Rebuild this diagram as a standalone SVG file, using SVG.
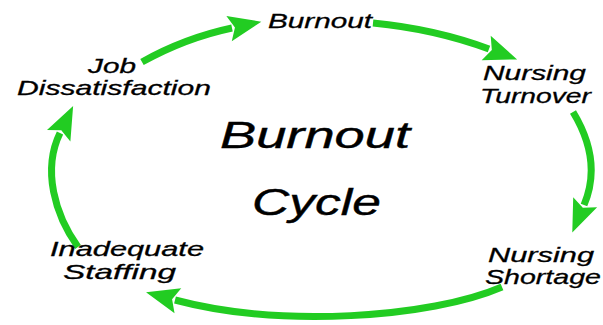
<svg xmlns="http://www.w3.org/2000/svg" width="603" height="325" viewBox="0 0 603 325">
  <style>
    .lbl { font-family: "Liberation Sans", Arial, sans-serif; font-style: italic; font-size: 21px; fill: #000; stroke: #000; stroke-width: 0.3; }
    .title { font-family: "Liberation Sans", Arial, sans-serif; font-style: italic; font-size: 36px; fill: #000; stroke: #000; stroke-width: 0.4; }
    .arc { fill: none; stroke: #22cc22; stroke-width: 7; stroke-linecap: butt; marker-end: url(#head); }
  </style>
  <defs>
    <marker id="head" markerUnits="userSpaceOnUse" markerWidth="40" markerHeight="32" refX="3" refY="0" viewBox="0 -16 40 32" orient="auto" overflow="visible">
      <path d="M0,-13 L33,0 L0,13 L6,0 z" fill="#22cc22"/>
    </marker>
  </defs>
  <rect width="603" height="325" fill="#fff"/>

  <g id="connectors">
    <path class="arc" d="M142,62 Q185,38 232,28"/>
    <path class="arc" d="M373,23 Q435,29 489,49"/>
    <path class="arc" d="M573,112 C590,140 598,172 584,205"/>
    <path class="arc" d="M502,287 C430,318 280,328 175,300"/>
    <path class="arc" d="M78,247 C55,215 42,170 60,133"/>
  </g>

  <g id="title">
    <text class="title" x="220" y="148" textLength="190" lengthAdjust="spacingAndGlyphs">Burnout</text>
    <text class="title" x="252" y="215" textLength="129" lengthAdjust="spacingAndGlyphs">Cycle</text>
  </g>

  <g id="burnout">
    <text class="lbl" x="268" y="28" textLength="104" lengthAdjust="spacingAndGlyphs">Burnout</text>
  </g>
  <g id="nursing-turnover">
    <text class="lbl" x="483" y="80" textLength="103" lengthAdjust="spacingAndGlyphs">Nursing</text>
    <text class="lbl" x="480" y="103" textLength="111" lengthAdjust="spacingAndGlyphs">Turnover</text>
  </g>
  <g id="nursing-shortage">
    <text class="lbl" x="488" y="262" textLength="106" lengthAdjust="spacingAndGlyphs">Nursing</text>
    <text class="lbl" x="485" y="284" textLength="116" lengthAdjust="spacingAndGlyphs">Shortage</text>
  </g>
  <g id="inadequate-staffing">
    <text class="lbl" x="50" y="256" textLength="154" lengthAdjust="spacingAndGlyphs">Inadequate</text>
    <text class="lbl" x="63" y="279" textLength="113" lengthAdjust="spacingAndGlyphs">Staffing</text>
  </g>
  <g id="job-dissatisfaction">
    <text class="lbl" x="88" y="73" textLength="48" lengthAdjust="spacingAndGlyphs">Job</text>
    <text class="lbl" x="17" y="95" textLength="194" lengthAdjust="spacingAndGlyphs">Dissatisfaction</text>
  </g>
</svg>
